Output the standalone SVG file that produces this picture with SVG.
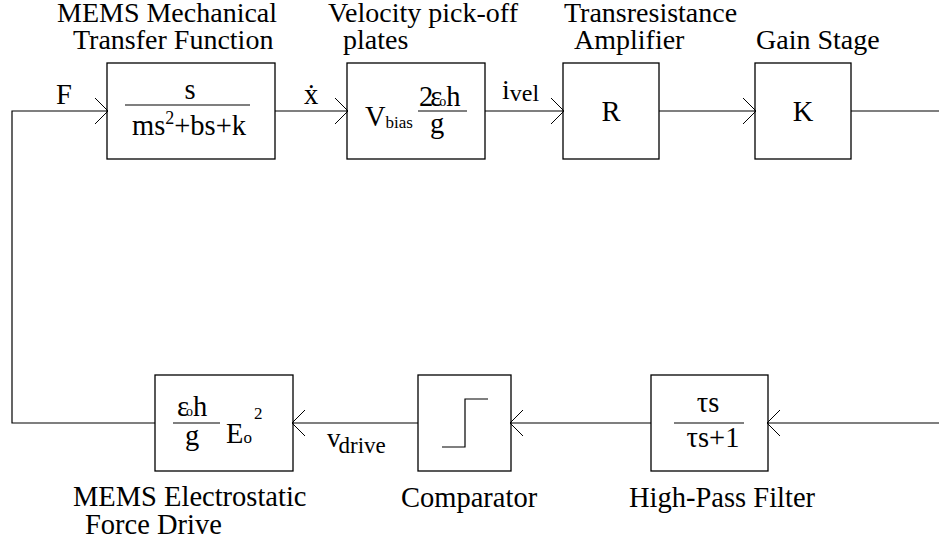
<svg xmlns="http://www.w3.org/2000/svg" width="939" height="546" viewBox="0 0 939 546" font-family="'Liberation Serif','Times New Roman',serif">
<style>
text{font-family:"Liberation Serif","Times New Roman",serif;fill:#000}
.t{font-size:28.5px}
.h{font-size:28px}
.box{fill:none;stroke:#000;stroke-width:1.3}
.ln{fill:none;stroke:#000;stroke-width:1.2}
.ar{fill:none;stroke:#000;stroke-width:1}
</style>
<rect width="939" height="546" fill="#fff"/>
<g id="connectors">
<path class="ln" d="M155,423H12V111H107"/>
<path class="ln" d="M275,111H347"/>
<path class="ln" d="M485,111H563"/>
<path class="ln" d="M659,111H755"/>
<path class="ln" d="M851,111H939"/>
<path class="ln" d="M939,423H768"/>
<path class="ln" d="M651,423H511"/>
<path class="ln" d="M418,423H293"/>
<path class="ar" d="M95,98L108,111L95,124"/>
<path class="ar" d="M335,98L348,111L335,124"/>
<path class="ar" d="M551,98L564,111L551,124"/>
<path class="ar" d="M743,98L756,111L743,124"/>
<path class="ar" d="M780,410L767,423L780,436"/>
<path class="ar" d="M523,410L510,423L523,436"/>
<path class="ar" d="M305,410L292,423L305,436"/>
<text class="t" x="56" y="104">F</text>
<text class="t" x="304" y="104">ẋ</text>
<text x="502" y="99" style="font-size:28px">i<tspan dy="2" style="font-size:24px">vel</tspan></text>
<text x="327" y="447" style="font-size:27px">v<tspan dy="6" style="font-size:23px" dx="-2">drive</tspan></text>
</g>
<g id="mech">
<text class="h" x="57" y="22">MEMS Mechanical</text>
<text class="h" x="73" y="49">Transfer Function</text>
<rect class="box" x="107" y="63" width="168" height="96"/>
<text class="t" x="190" y="99" text-anchor="middle">s</text>
<line class="ln" x1="125" y1="105" x2="250" y2="105"/>
<text class="t" x="132" y="135">ms<tspan dy="-11" style="font-size:18px">2</tspan><tspan dy="11">+bs+k</tspan></text>
</g>
<g id="velocity">
<text class="h" x="328" y="22">Velocity pick-off</text>
<text class="h" x="343" y="49">plates</text>
<rect class="box" x="347" y="63" width="138" height="96"/>
<text class="t" x="365" y="126">V<tspan dy="2" style="font-size:17px">bias</tspan></text>
<text class="t" x="419" y="106" letter-spacing="-3">2ε<tspan style="font-size:14px" letter-spacing="0">o</tspan><tspan>h</tspan></text>
<line class="ln" x1="418" y1="111" x2="467" y2="111"/>
<text class="t" x="430" y="133">g</text>
</g>
<g id="transres">
<text class="h" x="564" y="22">Transresistance</text>
<text class="h" x="574" y="49">Amplifier</text>
<rect class="box" x="563" y="63" width="96" height="96"/>
<text class="t" x="611" y="121" text-anchor="middle">R</text>
</g>
<g id="gain">
<text class="h" x="756" y="49">Gain Stage</text>
<rect class="box" x="755" y="63" width="96" height="96"/>
<text class="t" x="803" y="121" text-anchor="middle">K</text>
</g>
<g id="hpf">
<rect class="box" x="651" y="375" width="117" height="96"/>
<text class="t" x="708" y="412" text-anchor="middle">τs</text>
<line class="ln" x1="674" y1="423" x2="744" y2="423"/>
<text class="t" x="713" y="447" text-anchor="middle">τs+1</text>
<text class="t" x="629" y="507">High-Pass Filter</text>
</g>
<g id="comparator">
<rect class="box" x="418" y="375" width="93" height="96"/>
<path class="ln" d="M442,447H465V399H488"/>
<text class="t" x="401" y="507">Comparator</text>
</g>
<g id="force">
<rect class="box" x="155" y="375" width="138" height="96"/>
<text class="t" x="177" y="416" letter-spacing="-3">ε<tspan style="font-size:14px" letter-spacing="0">o</tspan><tspan>h</tspan></text>
<line class="ln" x1="173" y1="423" x2="220" y2="423"/>
<text class="t" x="185" y="445">g</text>
<text class="t" x="226" y="443">E<tspan style="font-size:17px">o</tspan><tspan dy="-24" dx="2" style="font-size:17px">2</tspan></text>
<text class="t" x="73" y="506">MEMS Electrostatic</text>
<text class="t" x="85" y="534">Force Drive</text>
</g>
</svg>
